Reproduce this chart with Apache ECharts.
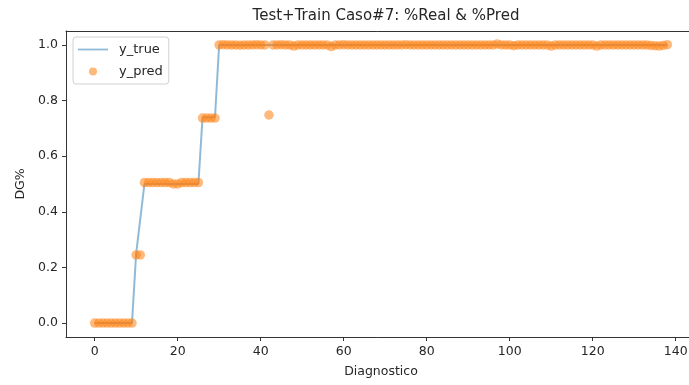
<!DOCTYPE html>
<html>
<head>
<meta charset="utf-8">
<script src="https://cdn.jsdelivr.net/npm/echarts@6/dist/echarts.min.js"></script>
<style>
  html, body { margin: 0; padding: 0; background: #fff; overflow: hidden; }
  #chart { width: 689px; height: 385px; }
</style>
</head>
<body>
<div id="chart"></div>
<script>
// Real diagnosis share per case (index = case number)
const yTrue = [
  0, 0, 0, 0, 0, 0, 0, 0, 0, 0,           // 0-9
  0.25, 0.375,                            // 10-11
  0.5, 0.5, 0.5, 0.5, 0.5, 0.5, 0.5, 0.5, 0.5, 0.5, 0.5, 0.5, 0.5, 0.5, // 12-25
  0.74, 0.74, 0.74, 0.74,                 // 26-29
].concat(new Array(109).fill(1));         // 30-138

// Predicted share per case
const yPred = [
  0, 0, 0, 0, 0, 0, 0, 0, 0, 0,
  0.245, 0.245,
  0.505, 0.505, 0.505, 0.505, 0.505, 0.505, 0.505, 0.5, 0.5, 0.505, 0.505, 0.505, 0.505, 0.505,
  0.737, 0.737, 0.737, 0.737,
  1.0, 1.001, 1.0, 1.0, 1.0, 0.999, 1.0, 1.0, 1.0, 1.001, 1.0, 1.0,
  0.748,
  1.0, 1.0, 1.001, 1.0, 1.0, 0.996, 1.0, 1.0, 1.0, 1.0,
  1.0, 1.0, 1.0, 1.0, 0.994, 1.0, 1.0, 1.001, 1.0, 1.0,
  1.0, 1.0, 1.0, 1.0, 1.0, 1.0, 1.0, 1.0, 1.0, 1.0,
  1.0, 1.0, 1.001, 1.0, 1.0, 1.0, 1.0, 1.0, 1.0, 1.0,
  1.0, 1.0, 1.0, 1.0, 1.0, 1.0, 1.0, 1.0, 1.0, 1.0,
  1.0, 1.0, 1.0, 1.0, 1.003, 1.0, 1.0, 1.0, 0.997, 1.0,
  1.0, 1.0, 1.0, 1.0, 1.0, 1.0, 1.0, 0.996, 1.0, 1.0,
  1.0, 1.0, 1.0, 1.0, 1.0, 1.0, 1.0, 1.0, 0.996, 1.0,
  1.0, 1.0, 1.0, 1.0, 1.0, 1.0, 1.0, 1.0, 1.0, 1.0,
  1.0, 0.998, 0.997, 0.996, 0.998, 1.001
];

const xTicks = [0, 20, 40, 60, 80, 100, 120, 140];
const yTicks = [0, 0.2, 0.4, 0.6, 0.8, 1.0];

const FONT = 'DejaVu Sans';
const TXT = '#262626';
const AXIS = '#333';

const chart = echarts.init(document.getElementById('chart'), null, { renderer: 'canvas' });

// 5% padding on both sides of the case range; the right end of the plot
// area runs a few pixels past the canvas edge.
const n = yTrue.length;
const xMin = -0.05 * (n - 1);
const xMax = (n - 1) * 1.05;

chart.setOption({
  animation: false,
  backgroundColor: '#fff',
  title: {
    text: 'Test+Train Caso#7: %Real & %Pred',
    left: 381,
    top: 4,
    textAlign: 'center',
    textStyle: { fontFamily: FONT, fontSize: 15, fontWeight: 'normal', color: TXT }
  },
  grid: {
    left: 66, right: -7, top: 31, bottom: 48,
    show: false,
    outerBoundsMode: 'none',
    containLabel: false
  },
  legend: {
    orient: 'vertical',
    left: 73, top: 37,
    padding: [6, 6, 6, 5],
    itemGap: 9,
    itemWidth: 30, itemHeight: 8,
    symbolKeepAspect: true,
    backgroundColor: 'rgba(255,255,255,0.8)',
    borderColor: '#d0d0d0', borderWidth: 1, borderRadius: 3,
    textStyle: { fontFamily: FONT, fontSize: 13, color: TXT, padding: [0, 0, 0, 6] },
    data: [
      { name: 'y_true', icon: 'path://M0,0 L30,0 L30,1.8 L0,1.8 Z' },
      { name: 'y_pred', icon: 'circle' }
    ]
  },
  xAxis: [
    {
      type: 'value',
      min: xMin, max: xMax,
      name: 'Diagnostico',
      nameLocation: 'middle',
      nameGap: 28,
      nameTextStyle: { fontFamily: FONT, fontSize: 12.5, color: TXT },
      splitLine: { show: false },
      axisLine: { show: true, onZero: false, lineStyle: { color: AXIS, width: 1 } },
      axisTick: { show: true, length: 4, customValues: xTicks, lineStyle: { color: AXIS } },
      axisLabel: {
        customValues: xTicks, margin: 8,
        fontFamily: FONT, fontSize: 12.5, color: TXT,
        formatter: v => String(v)
      }
    },
    {
      // top frame line
      type: 'value',
      position: 'top',
      min: xMin, max: xMax,
      axisLine: { show: true, onZero: false, lineStyle: { color: AXIS, width: 1 } },
      axisTick: { show: false },
      axisLabel: { show: false },
      splitLine: { show: false }
    }
  ],
  yAxis: {
    type: 'value',
    min: -0.05, max: 1.05,
    name: 'DG%',
    nameLocation: 'middle',
    nameRotate: 90,
    nameGap: 36,
    nameTextStyle: { fontFamily: FONT, fontSize: 12.5, color: TXT },
    splitLine: { show: false },
    axisLine: { show: true, onZero: false, lineStyle: { color: AXIS, width: 1 } },
    axisTick: { show: true, length: 4, customValues: yTicks, lineStyle: { color: AXIS } },
    axisLabel: {
      customValues: yTicks, margin: 8,
      fontFamily: FONT, fontSize: 12.5, color: TXT,
      formatter: v => v.toFixed(1)
    }
  },
  series: [
    {
      name: 'y_true',
      type: 'line',
      data: yTrue.map((v, i) => [i, v]),
      showSymbol: false,
      symbol: 'none',
      lineStyle: { color: '#1f77b4', width: 2, opacity: 0.5 },
      itemStyle: { color: '#1f77b4', opacity: 0.5 },
      z: 2
    },
    {
      name: 'y_pred',
      type: 'scatter',
      data: yPred.map((v, i) => [i, v]),
      symbol: 'circle',
      symbolSize: 9.5,
      itemStyle: { color: '#ff7f0e', opacity: 0.55 },
      z: 3
    }
  ]
});
</script>
</body>
</html>
